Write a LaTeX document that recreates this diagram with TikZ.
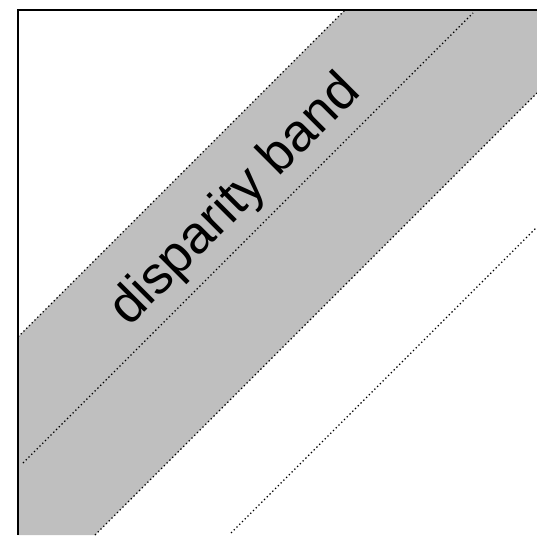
\documentclass[tikz,border=0pt]{standalone}
\usepackage{fontspec}
\setmainfont{Liberation Sans}
\definecolor{bandgray}{RGB}{191,191,191}
\begin{document}
\begin{tikzpicture}[x=1pt,y=1pt,
  bandline/.style={line width=1.3pt, dash pattern=on 1.3pt off 2.6pt, black},
  frameline/.style={line width=2pt, black},
  bandlabel/.style={rotate=45, inner sep=0pt, font=\fontsize{53}{53}\selectfont}]
\useasboundingbox (0,0) rectangle (537,535);
% band
\fill[bandgray] (18,198) -- (345,525) -- (537,525) -- (537,442) -- (95,0) -- (18,0) -- cycle;
% coordinates
\coordinate (u1) at (18,198);
\coordinate (u2) at (345,525);
\coordinate (m1) at (23,72);
\coordinate (m2) at (473,522);
\coordinate (l1) at (95,0);
\coordinate (l2) at (537,442);
\coordinate (f1) at (231,2);
\coordinate (f2) at (536,307);
\draw[bandline] (u1) -- (u2);
\draw[bandline] (m1) -- (m2);
\draw[bandline] (l1) -- (l2);
\draw[bandline] (f1) -- (f2);
% frame
\coordinate (fb) at (18,0);
\coordinate (fc) at (18,525);
\coordinate (fr) at (537,525);
\draw[frameline] (fb) -- (fc) -- (fr);
\node[bandlabel] (lab) at (236,334) {disparity band};
\end{tikzpicture}
\end{document}
